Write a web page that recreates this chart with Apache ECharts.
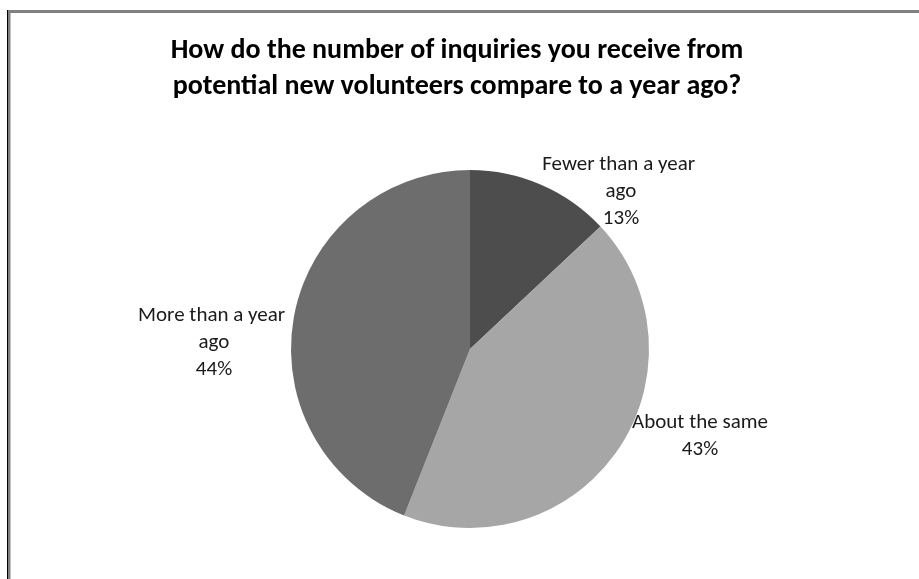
<!DOCTYPE html>
<html>
<head>
<meta charset="utf-8">
<title>Inquiries from potential new volunteers</title>
<script src="https://cdn.jsdelivr.net/npm/echarts@6/dist/echarts.min.js"></script>
<style>
  html, body { margin: 0; padding: 0; background: #ffffff; }
  #chart { width: 919px; height: 579px; }
</style>
</head>
<body>
<div id="chart"></div>
<script>
// Survey answers and their shares (percent of respondents)
const categories = ['Fewer than a year ago', 'About the same', 'More than a year ago'];
const shares = [13, 43, 44];
const sliceColors = ['#4d4d4d', '#a6a6a6', '#6d6d6d'];

const titleText = 'How do the number of inquiries you receive from\npotential new volunteers compare to a year ago?';

// Where each data label block is centred
const labelAnchors = [[621, 192], [700, 436], [214, 343]];

const FONT = 'Carlito, Calibri, Lato, sans-serif';

const chart = echarts.init(document.getElementById('chart'), null, { renderer: 'canvas' });

chart.setOption({
  backgroundColor: '#ffffff',
  animation: false,
  title: {
    text: titleText,
    left: 452,
    top: 28,
    textAlign: 'center',
    textStyle: {
      fontFamily: FONT,
      fontSize: 28,
      fontWeight: 'bold',
      color: '#000000',
      lineHeight: 36
    }
  },
  graphic: [
    {
      // chart-area frame
      type: 'rect',
      silent: true,
      shape: { x: 9, y: 11.5, width: 1000, height: 700 },
      style: { fill: null, stroke: '#808080', lineWidth: 3 }
    },
    {
      type: 'line',
      silent: true,
      shape: { x1: 7.5, y1: 10, x2: 7.5, y2: 700 },
      style: { stroke: '#000000', lineWidth: 1 }
    }
  ],
  series: [
    {
      type: 'pie',
      center: [470, 349],
      radius: 179,
      startAngle: 90,
      clockwise: true,
      avoidLabelOverlap: false,
      itemStyle: { borderWidth: 0 },
      emphasis: { disabled: true },
      label: {
        show: true,
        position: 'outside',
        formatter: '{b}\n{c}%',
        width: 160,
        overflow: 'break',
        align: 'center',
        fontFamily: FONT,
        fontSize: 21,
        lineHeight: 27,
        color: '#1a1a1a'
      },
      labelLine: { show: false },
      labelLayout: function (params) {
        const p = labelAnchors[params.dataIndex];
        return { x: p[0], y: p[1], align: 'center', verticalAlign: 'middle' };
      },
      data: categories.map(function (name, i) {
        return { name: name, value: shares[i], itemStyle: { color: sliceColors[i] } };
      })
    }
  ]
});
</script>
</body>
</html>
